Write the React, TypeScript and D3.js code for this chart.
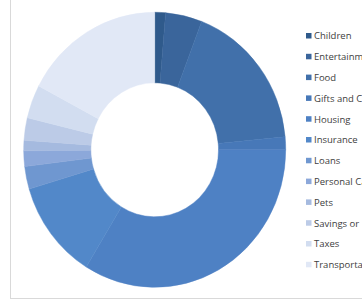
import React from 'react';
import * as d3 from 'd3';

// budget categories (clockwise from 12 o'clock)
const categories = ['Children', 'Entertainment', 'Food', 'Gifts and Charity', 'Housing', 'Insurance',
  'Loans', 'Personal Care', 'Pets', 'Savings or Investments', 'Taxes', 'Transportation'];
const amounts = [48, 162, 636, 54, 1215, 419, 96, 66, 44, 95, 142, 623];
const colors = ['#2f5a8b', '#3a659b', '#4170aa', '#4778b8', '#4e81c4', '#5288c9',
  '#6f97d0', '#8ca8da', '#a5badf', '#bccbe7', '#d2ddf0', '#e1e8f6'];

const width = 362;
const height = 300;
const cx = 154.7;
const cy = 149.8;
const outerR = 137.5;
const innerR = 67;
const squash = 131 / 137.5;

const App = () => {
  const pie = d3.pie<number>().sort(null).value((d) => d);
  const arc = d3.arc<d3.PieArcDatum<number>>().innerRadius(innerR).outerRadius(outerR);
  const slices = pie(amounts);

  const legendY = d3.scalePoint<string>().domain(categories).range([36, 36 + 20.8 * 11]);

  // legend runs off the right edge, as in the original
  return (
    <svg width={width} height={height} style={{ position: 'absolute', left: 0, top: 0, background: '#fff' }}>
      <rect x={10.5} y={-1} width={width} height={299.5} fill="#fff" stroke="#d9d9d9" />
      <g transform={`translate(${cx},${cy}) scale(${squash},1)`}>
        {slices.map((s, i) => (
          <path key={categories[i]} d={arc(s) || ''} fill={colors[i]} stroke={colors[i]} strokeWidth={0.5} />
        ))}
      </g>
      <g fontFamily="'Open Sans', sans-serif" fontSize={9.5} fill="#404040">
        {categories.map((c, i) => (
          <g key={c} transform={`translate(306,${legendY(c)})`}>
            <rect x={0} y={-3} width={5.5} height={5.5} fill={colors[i]} />
            <text x={8} y={0} dy="0.35em">{c}</text>
          </g>
        ))}
      </g>
    </svg>
  );
};

export default App;
